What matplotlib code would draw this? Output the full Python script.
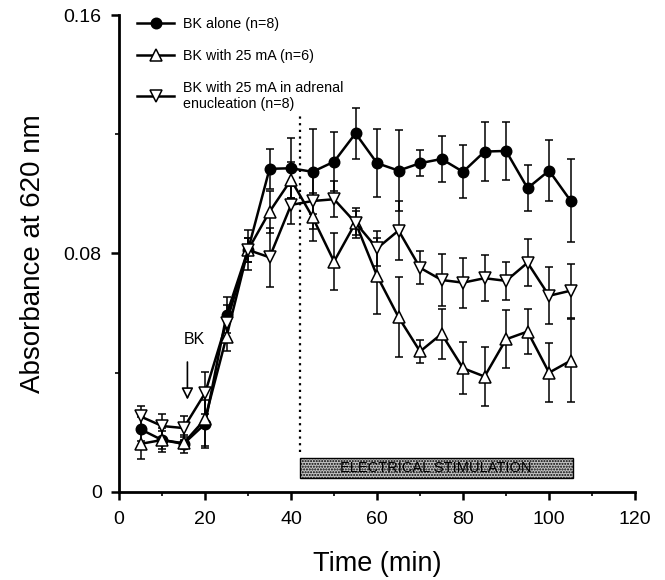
import matplotlib

matplotlib.use("Agg")
import matplotlib.pyplot as plt
from matplotlib.lines import Line2D
from matplotlib.ticker import MultipleLocator

plt.rcParams["font.family"] = ["Liberation Sans", "DejaVu Sans"]

# ---------------------------------------------------------------------------
# Data
# ---------------------------------------------------------------------------
time_min = [5, 10, 15, 20, 25, 30, 35, 40, 45, 50, 55, 60, 65, 70, 75,
            80, 85, 90, 95, 100, 105]

bk_alone = [0.0210, 0.0174, 0.0161, 0.0228, 0.0594, 0.0812, 0.1084, 0.1086,
            0.1074, 0.1108, 0.1203, 0.1103, 0.1078, 0.1103, 0.1117, 0.1074,
            0.1142, 0.1144, 0.1019, 0.1078, 0.0977]
bk_alone_err = [0.004, 0.003, 0.003, 0.008, 0.006, 0.0067, 0.0066, 0.010,
                0.0143, 0.010, 0.0085, 0.0114, 0.0136, 0.0043, 0.0077, 0.0089,
                0.010, 0.0098, 0.0078, 0.0102, 0.014]

bk_25ma = [0.0161, 0.0174, 0.0163, 0.0244, 0.0521, 0.0812, 0.0940, 0.1047,
           0.0922, 0.0773, 0.0903, 0.0725, 0.0586, 0.0471, 0.0530, 0.0415,
           0.0387, 0.0512, 0.0538, 0.0400, 0.0440]
bk_25ma_err = [0.005, 0.004, 0.002, 0.009, 0.005, 0.004, 0.007, 0.006,
               0.008, 0.0095, 0.005, 0.0128, 0.0134, 0.004, 0.0085, 0.0088,
               0.010, 0.0098, 0.0076, 0.010, 0.014]

bk_25ma_adx = [0.0253, 0.0221, 0.0214, 0.0331, 0.0568, 0.0812, 0.0787, 0.0963,
               0.0976, 0.0982, 0.0903, 0.0817, 0.0877, 0.0752, 0.0711, 0.0702,
               0.0717, 0.0708, 0.0769, 0.0658, 0.0675]
bk_25ma_adx_err = [0.0035, 0.004, 0.004, 0.007, 0.006, 0.004, 0.010, 0.0065,
                   0.0095, 0.006, 0.004, 0.006, 0.010, 0.0056, 0.0088, 0.0084,
                   0.0077, 0.0063, 0.0078, 0.0096, 0.009]

labels = ["BK alone (n=8)",
          "BK with 25 mA (n=6)",
          "BK with 25 mA in adrenal\nenucleation (n=8)"]

stim_start, stim_end = 42, 105.5

# ---------------------------------------------------------------------------
# Figure
# ---------------------------------------------------------------------------
fig = plt.figure(figsize=(6.65, 5.8), dpi=100)
ax = fig.add_axes([0.179, 0.152, 0.776, 0.822])

series = [
    (bk_alone, bk_alone_err, dict(marker="o", mfc="black", ms=7.5)),
    (bk_25ma, bk_25ma_err, dict(marker="^", mfc="white", ms=8.5)),
    (bk_25ma_adx, bk_25ma_adx_err, dict(marker="v", mfc="white", ms=8.5)),
]
handles = []
for (vals, err, style), lab in zip(series, labels):
    ax.errorbar(time_min, vals, yerr=err, color="black", lw=1.8,
                elinewidth=1.1, capsize=3, capthick=1.1, mec="black",
                mew=1.1, **style)
    # legend shows line + marker only, no error bar
    handles.append(Line2D([], [], color="black", lw=1.8, mec="black",
                          mew=1.1, label=lab, **style))

# stimulation marker
ax.plot([stim_start, stim_start], [0.0135, 0.126], ls=(0, (1, 2)),
        color="black", lw=1.6)
ax.bar(stim_start, 0.007, width=stim_end - stim_start, bottom=0.0045,
       align="edge", facecolor="#c4c4c4", edgecolor="black", lw=1.0,
       hatch="......")
ax.text((stim_start + stim_end) / 2, 0.0079, "ELECTRICAL STIMULATION",
        ha="center", va="center", fontsize=10.5)

# BK arrow
ax.annotate("", xy=(15.9, 0.030), xytext=(15.9, 0.0445),
            arrowprops=dict(arrowstyle="-|>,head_length=0.7,head_width=0.35",
                            fc="white", ec="black", lw=1.2))
ax.text(17.6, 0.0485, "BK", ha="center", va="bottom", fontsize=11.5)

ax.set_xlim(0, 120)
ax.set_ylim(0, 0.16)
ax.set_xticks([0, 20, 40, 60, 80, 100, 120])
ax.set_yticks([0, 0.08, 0.16])
ax.set_yticklabels(["0", "0.08", "0.16"])
ax.xaxis.set_minor_locator(MultipleLocator(10))
ax.yaxis.set_minor_locator(MultipleLocator(0.04))

for side in ("top", "right"):
    ax.spines[side].set_visible(False)
for side in ("left", "bottom"):
    ax.spines[side].set_linewidth(2)
ax.tick_params(which="major", length=6, width=1.8, labelsize=14)
ax.tick_params(axis="x", which="major", pad=8)
ax.tick_params(axis="y", which="major", pad=6.5)
ax.tick_params(which="minor", length=3, width=1.2)

ax.set_xlabel("Time (min)", fontsize=19.5, labelpad=16)
ax.set_ylabel("Absorbance at 620 nm", fontsize=20, labelpad=13)

ax.legend(handles=handles, loc="upper left", bbox_to_anchor=(0.01, 1.023),
          frameon=False, fontsize=10.3, handlelength=2.6, labelspacing=1.25,
          handletextpad=0.6, numpoints=1)

fig.savefig("out.png", dpi=100)
